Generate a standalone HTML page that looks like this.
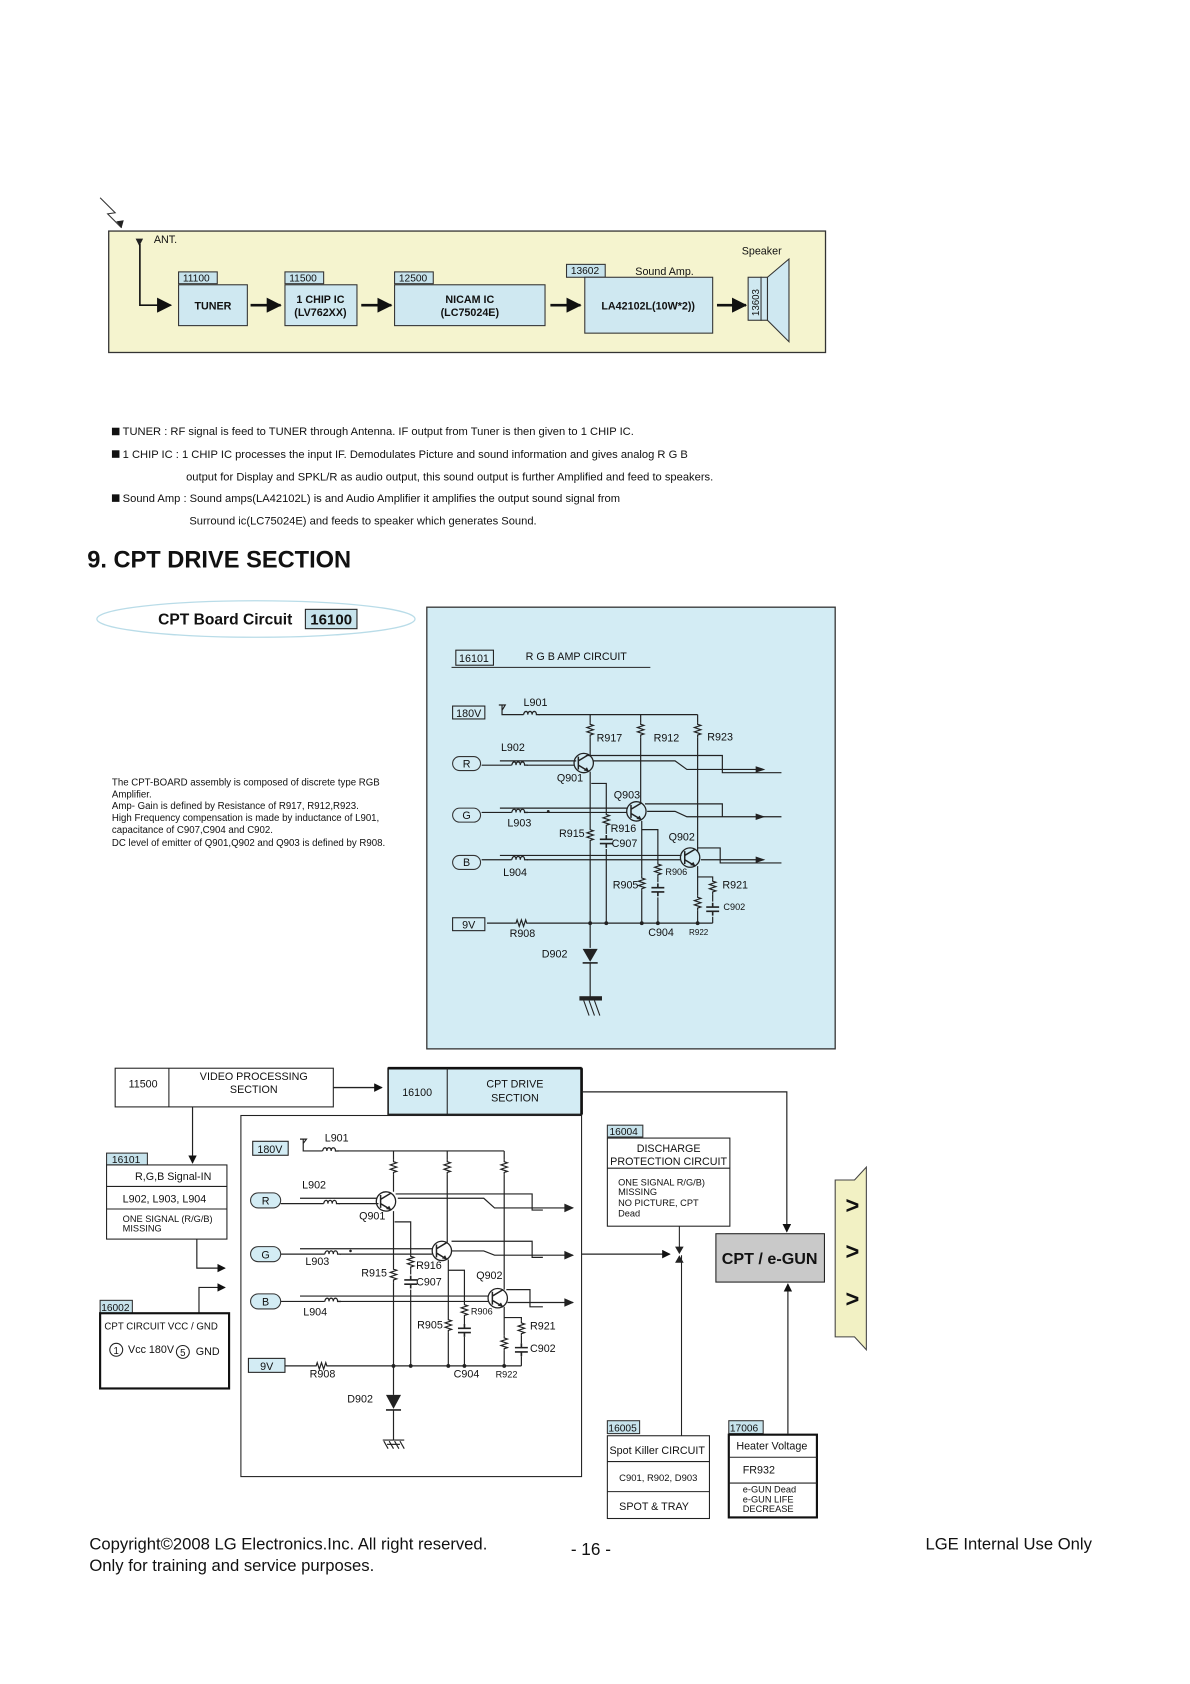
<!DOCTYPE html>
<html><head><meta charset="utf-8"><style>
html,body{margin:0;padding:0;background:#fff}
svg{display:block}
text{font-family:"Liberation Sans",Arial,sans-serif;fill:#111}
</style></head><body>
<svg width="1190" height="1684" viewBox="0 0 1107 1567" xmlns="http://www.w3.org/2000/svg">
<defs>
<marker id="ah" markerWidth="8" markerHeight="8" refX="7" refY="4" orient="auto" markerUnits="userSpaceOnUse"><path d="M0,0 L8,4 L0,8 Z" fill="#111"/></marker>
<marker id="ahb" markerWidth="14" markerHeight="14" refX="13" refY="7" orient="auto" markerUnits="userSpaceOnUse"><path d="M0,0 L14,7 L0,14 Z" fill="#111"/></marker>
<g id="rv"><path d="M0,-7 L0,-5 L3,-4 L-3,-2 L3,0 L-3,2 L3,4 L0,5 L0,7" fill="none" stroke="#222" stroke-width="1.1"/></g>
<g id="rh"><path d="M-7,0 L-5,0 L-4,-3 L-2,3 L0,-3 L2,3 L4,-3 L5,0 L7,0" fill="none" stroke="#222" stroke-width="1.1"/></g>
<g id="coil"><path d="M-7,0 C-6,-4 -3,-4 -3,0 C-3,-4 1,-4 1,0 C1,-4 5,-4 5,0 L8,0" fill="none" stroke="#222" stroke-width="1.2"/></g>
<g id="cap"><path d="M0,-6 L0,-2 M-6,-2 L6,-2 M-6,2 L6,2 M0,2 L0,6" fill="none" stroke="#222" stroke-width="1.5"/></g>
<g id="tr"><circle r="9" fill="none" stroke="#222" stroke-width="1.2"/><path d="M-5,-6 L-5,6 M-5,-2 L5,-8 M-5,2 L5,8" fill="none" stroke="#222" stroke-width="1.4"/><path d="M5,8 L0,7 L3,4 Z" fill="#222"/></g>
</defs>

<!-- TOP BLOCK -->
<path d="M93,184 L107,198 L100,199 L113,212" fill="none" stroke="#333" stroke-width="1"/>
<path d="M113,212 L108,206 L115,205 Z" fill="#222"/>
<rect x="101" y="215" width="667" height="113" fill="#f5f4cf" stroke="#333" stroke-width="1.2"/>
<path d="M126,222 L133,222 L129.5,229 Z" fill="#222"/>
<text x="143" y="226" font-size="10">ANT.</text>
<path d="M130,227 L130,284 L159,284" fill="none" stroke="#111" stroke-width="1.5" marker-end="url(#ahb)"/>
<g font-size="9.5">
<rect x="166" y="253" width="36" height="11" fill="#c7e3ec" stroke="#333"/><text x="170" y="262">11100</text>
<rect x="265" y="253" width="36" height="11" fill="#c7e3ec" stroke="#333"/><text x="269" y="262">11500</text>
<rect x="367" y="253" width="36" height="11" fill="#c7e3ec" stroke="#333"/><text x="371" y="262">12500</text>
<rect x="527" y="246" width="36" height="12" fill="#c7e3ec" stroke="#333"/><text x="531" y="255">13602</text>
</g>
<text x="591" y="256" font-size="10">Sound Amp.</text>
<text x="690" y="237" font-size="10">Speaker</text>
<rect x="166" y="265" width="64" height="38" fill="#cfe8f1" stroke="#333"/>
<text x="198" y="288" font-size="10" font-weight="bold" text-anchor="middle">TUNER</text>
<rect x="265" y="265" width="67" height="38" fill="#cfe8f1" stroke="#333"/>
<text x="298" y="282" font-size="10" font-weight="bold" text-anchor="middle">1 CHIP IC</text>
<text x="298" y="294" font-size="10" font-weight="bold" text-anchor="middle">(LV762XX)</text>
<rect x="367" y="265" width="140" height="38" fill="#cfe8f1" stroke="#333"/>
<text x="437" y="282" font-size="10" font-weight="bold" text-anchor="middle">NICAM IC</text>
<text x="437" y="294" font-size="10" font-weight="bold" text-anchor="middle">(LC75024E)</text>
<rect x="544" y="258" width="119" height="52" fill="#cfe8f1" stroke="#333"/>
<text x="603" y="288" font-size="10" font-weight="bold" text-anchor="middle">LA42102L(10W*2))</text>
<g stroke="#111" stroke-width="2.5">
<line x1="233" y1="284" x2="261" y2="284" marker-end="url(#ahb)"/>
<line x1="336" y1="284" x2="364" y2="284" marker-end="url(#ahb)"/>
<line x1="512" y1="284" x2="540" y2="284" marker-end="url(#ahb)"/>
<line x1="667" y1="284" x2="694" y2="284" marker-end="url(#ahb)"/>
</g>
<rect x="696" y="258" width="12" height="40" fill="#cfe8f1" stroke="#333"/>
<text transform="translate(706,294) rotate(-90)" font-size="9">13603</text>
<rect x="708" y="258" width="6" height="40" fill="#cfe8f1" stroke="#333"/>
<polygon points="714,258 734,241 734,318 714,298" fill="#cfe8f1" stroke="#333"/>

<!-- text lines -->
<g font-size="10.4">
<rect x="104" y="398" width="7" height="7" fill="#111"/>
<text x="114" y="405">TUNER : RF signal is feed to TUNER through Antenna. IF output from Tuner is then given to 1 CHIP IC.</text>
<rect x="104" y="419" width="7" height="7" fill="#111"/>
<text x="114" y="426">1 CHIP IC : 1 CHIP IC processes the input IF. Demodulates Picture and sound information and gives analog R G B</text>
<text x="173" y="447">output for Display and SPKL/R as audio output, this sound output is further Amplified and feed to speakers.</text>
<rect x="104" y="460" width="7" height="7" fill="#111"/>
<text x="114" y="467">Sound Amp :  Sound amps(LA42102L) is and Audio Amplifier it amplifies the output sound signal from</text>
<text x="176" y="488">Surround ic(LC75024E) and feeds to speaker which generates Sound.</text>
</g>
<text x="81" y="528" font-size="22" font-weight="bold">9. CPT DRIVE SECTION</text>

<ellipse cx="238" cy="576" rx="148" ry="17" fill="#fff" stroke="#b9dce8" stroke-width="1.2"/>
<text x="147" y="581" font-size="14.5" font-weight="bold">CPT Board Circuit</text>
<rect x="284" y="567" width="48" height="18" fill="#c7e3ec" stroke="#222"/>
<text x="308" y="581" font-size="14" font-weight="bold" text-anchor="middle">16100</text>
<g font-size="9">
<text x="104" y="731">The CPT-BOARD assembly is composed of discrete type RGB</text>
<text x="104" y="742">Amplifier.</text>
<text x="104" y="753">Amp- Gain is defined by Resistance of R917, R912,R923.</text>
<text x="104" y="764">High Frequency compensation is made by inductance of L901,</text>
<text x="104" y="775">capacitance of C907,C904 and C902.</text>
<text x="104" y="787">DC level of emitter of Q901,Q902 and Q903 is defined by R908.</text>
</g>

<!-- BLUE PANEL CIRCUIT -->
<rect x="397" y="565" width="380" height="411" fill="#d3ecf4" stroke="#333" stroke-width="1.2"/>
<rect x="424" y="605" width="35" height="14" fill="#d3ecf4" stroke="#222"/>
<text x="427" y="616" font-size="10">16101</text>
<text x="489" y="614" font-size="10">R G B AMP CIRCUIT</text>
<line x1="420" y1="621" x2="605" y2="621" stroke="#222"/>
<rect x="421" y="657" width="30" height="12" fill="#d3ecf4" stroke="#222"/>
<text x="436" y="667" font-size="10" text-anchor="middle">180V</text>
<g fill="none" stroke="#222" stroke-width="1.1">
<path d="M464,656 L470,656 L467,661 M467,656 L467,665 L487,665 M501,665 L649,665"/>
<path d="M549,665 L549,672 M549,686 L549,704 M596,665 L596,672 M596,686 L596,748 M649,665 L649,672 M649,686 L649,792"/>
<path d="M448,712 L476,712 M490,712 L534,712 M465,708 L536,708"/>
<path d="M545,703 L672,703 L672,719 L727,719 M552,708 L628,708 L639,716 L710,716"/>
<path d="M448,756 L476,756 M490,756 L583,756 M465,752 L584,752"/>
<path d="M600,748 L672,748 L672,760 L727,760 M602,755 L628,755 L639,760 L710,760"/>
<path d="M448,800 L476,800 M490,800 L633,800 M465,796 L634,796"/>
<path d="M649,789 L670,789 L670,803 L727,803 M652,800 L710,800"/>
<path d="M549,718 L549,770 M549,784 L549,882 M550,729 L564,729 L564,756 M564,770 L564,776 M564,790 L564,859"/>
<path d="M597,764 L597,815 M597,829 L597,859 M597,772 L612,772 L612,802 M612,816 L612,821 M612,835 L612,859"/>
<path d="M649,806 L649,833 M649,847 L649,859 M649,816 L663,816 L663,818 M663,832 L663,839 M663,853 L663,859"/>
<path d="M453,859 L478,859 M492,859 L663,859"/>
<path d="M549,896 L549,929"/>
</g>
<use href="#coil" transform="translate(494,665)"/>
<use href="#rv" transform="translate(549,679)"/><use href="#rv" transform="translate(596,679)"/><use href="#rv" transform="translate(649,679)"/>
<use href="#coil" transform="translate(483,712)"/><use href="#coil" transform="translate(483,756)"/><use href="#coil" transform="translate(483,800)"/>
<use href="#tr" transform="translate(543,710)"/><use href="#tr" transform="translate(592,755)"/><use href="#tr" transform="translate(642,798)"/>
<use href="#rv" transform="translate(549,777)"/><use href="#rv" transform="translate(564,763)"/><use href="#cap" transform="translate(564,783)"/>
<use href="#rv" transform="translate(597,822)"/><use href="#rv" transform="translate(612,809)"/><use href="#cap" transform="translate(612,828)"/>
<use href="#rv" transform="translate(663,825)"/><use href="#cap" transform="translate(663,846)"/><use href="#rv" transform="translate(649,840)"/>
<use href="#rh" transform="translate(485,859)"/>
<g fill="#222"><circle cx="549" cy="859" r="1.8"/><circle cx="564" cy="859" r="1.8"/><circle cx="597" cy="859" r="1.8"/><circle cx="612" cy="859" r="1.8"/><circle cx="649" cy="859" r="1.8"/><circle cx="510" cy="755" r="1.3"/></g>
<g fill="#222"><path d="M703,713 L712,716 L703,719 Z"/><path d="M703,757 L712,760 L703,763 Z"/><path d="M703,797 L712,800 L703,803 Z"/></g>
<path d="M542,883 L556,883 L549,895 Z" fill="#222"/><line x1="542" y1="896" x2="556" y2="896" stroke="#222" stroke-width="1.5"/>
<rect x="539" y="927" width="21" height="4" fill="#222"/>
<path d="M543,931 L548,945 M548,931 L553,945 M553,931 L558,945" stroke="#222" fill="none"/>
<g fill="#d3ecf4" stroke="#333"><rect x="421" y="704" width="26" height="13" rx="6.5"/><rect x="421" y="752" width="26" height="13" rx="6.5"/><rect x="421" y="796" width="26" height="13" rx="6.5"/></g>
<g font-size="10" text-anchor="middle"><text x="434" y="714">R</text><text x="434" y="762">G</text><text x="434" y="806">B</text></g>
<rect x="421" y="854" width="30" height="12" fill="#d3ecf4" stroke="#222"/>
<text x="436" y="864" font-size="10" text-anchor="middle">9V</text>
<g font-size="10">
<text x="487" y="657">L901</text><text x="555" y="690">R917</text><text x="608" y="690">R912</text><text x="658" y="689">R923</text>
<text x="466" y="699">L902</text><text x="518" y="727">Q901</text><text x="571" y="743">Q903</text><text x="472" y="769">L903</text>
<text x="520" y="779">R915</text><text x="568" y="774">R916</text><text x="569" y="788">C907</text><text x="622" y="782">Q902</text>
<text x="468" y="815">L904</text><text x="570" y="827">R905</text><text x="672" y="827">R921</text>
<text x="474" y="872">R908</text><text x="603" y="871">C904</text><text x="504" y="891">D902</text>
</g>
<text x="619" y="814" font-size="8.5">R906</text><text x="673" y="847" font-size="8.5">C902</text><text x="641" y="870" font-size="7.5">R922</text>

<!-- BOTTOM FLOW -->
<rect x="107" y="994" width="203" height="36" fill="#fff" stroke="#222"/>
<line x1="157" y1="994" x2="157" y2="1030" stroke="#222"/>
<text x="133" y="1012" font-size="10" text-anchor="middle">11500</text>
<text x="236" y="1005" font-size="10" text-anchor="middle">VIDEO PROCESSING</text>
<text x="236" y="1017" font-size="10" text-anchor="middle">SECTION</text>
<line x1="310" y1="1012" x2="355" y2="1012" stroke="#222" stroke-width="1.2" marker-end="url(#ah)"/>
<rect x="361" y="994" width="180" height="43" fill="#d3ecf4" stroke="#222" stroke-width="1.5"/>
<line x1="361" y1="994" x2="541" y2="994" stroke="#111" stroke-width="2.5"/>
<line x1="541" y1="994" x2="541" y2="1037" stroke="#111" stroke-width="2.5"/>
<line x1="416" y1="994" x2="416" y2="1037" stroke="#222"/>
<text x="388" y="1020" font-size="10" text-anchor="middle">16100</text>
<text x="479" y="1012" font-size="10" text-anchor="middle">CPT DRIVE</text>
<text x="479" y="1025" font-size="10" text-anchor="middle">SECTION</text>
<rect x="224" y="1038" width="317" height="336" fill="#fff" stroke="#222"/>
<path d="M541,1016 L732,1016 L732,1146" fill="none" stroke="#222" stroke-width="1.1" marker-end="url(#ah)"/>
<path d="M179,1030 L179,1082" fill="none" stroke="#222" stroke-width="1.1" marker-end="url(#ah)"/>
<rect x="99" y="1073" width="38" height="11" fill="#c7e3ec" stroke="#333"/><text x="104" y="1082" font-size="9.5">16101</text>
<rect x="99" y="1084" width="112" height="69" fill="#fff" stroke="#222"/>
<line x1="99" y1="1104" x2="211" y2="1104" stroke="#222"/><line x1="99" y1="1125" x2="211" y2="1125" stroke="#222"/>
<text x="161" y="1098" font-size="10" text-anchor="middle">R,G,B Signal-IN</text>
<text x="114" y="1119" font-size="10">L902, L903, L904</text>
<text x="114" y="1137" font-size="8.6">ONE SIGNAL (R/G/B)</text><text x="114" y="1146" font-size="8.6">MISSING</text>
<path d="M183,1153 L183,1180 L209,1180" fill="none" stroke="#222" stroke-width="1.1" marker-end="url(#ah)"/>
<path d="M185,1222 L185,1198 L209,1198" fill="none" stroke="#222" stroke-width="1.1" marker-end="url(#ah)"/>
<rect x="93" y="1210" width="30" height="12" fill="#c7e3ec" stroke="#333"/><text x="94" y="1220" font-size="9.5">16002</text>
<rect x="93" y="1222" width="120" height="70" fill="#fff" stroke="#111" stroke-width="2"/>
<text x="97" y="1237" font-size="9">CPT CIRCUIT VCC / GND</text>
<circle cx="108" cy="1256" r="6" fill="none" stroke="#222"/><text x="108" y="1260" font-size="9" text-anchor="middle">1</text>
<text x="119" y="1259" font-size="10">Vcc 180V</text>
<circle cx="170" cy="1258" r="6" fill="none" stroke="#222"/><text x="170" y="1262" font-size="9" text-anchor="middle">5</text>
<text x="182" y="1261" font-size="10">GND</text>

<!-- bottom circuit -->
<rect x="235" y="1062" width="33" height="13" fill="#d3ecf4" stroke="#222"/><text x="251" y="1073" font-size="10" text-anchor="middle">180V</text>
<g fill="none" stroke="#222" stroke-width="1.1">
<path d="M279,1060 L285,1060 L282,1064 M282,1060 L282,1071 L300,1071 M314,1071 L469,1071"/>
<path d="M366,1071 L366,1079 M366,1093 L366,1109 M416,1071 L416,1079 M416,1093 L416,1156 M469,1071 L469,1079 M469,1093 L469,1200"/>
<path d="M261,1120 L301,1120 M315,1120 L352,1120 M279,1115 L351,1115"/>
<path d="M368,1111 L495,1111 L495,1126 L505,1126 M370,1115 L450,1115 L460,1124 L533,1124"/>
<path d="M261,1167 L302,1167 M316,1167 L402,1167 M279,1162 L402,1162"/>
<path d="M420,1155 L495,1155 L495,1170 L505,1170 M420,1164 L450,1164 L460,1168 L533,1168"/>
<path d="M261,1211 L302,1211 M316,1211 L454,1211 M279,1206 L454,1206"/>
<path d="M471,1200 L493,1200 L493,1216 L505,1216 M472,1212 L533,1212"/>
<path d="M366,1127 L366,1179 M366,1193 L366,1298 M367,1137 L382,1137 L382,1167 M382,1181 L382,1186 M382,1200 L382,1271"/>
<path d="M417,1172 L417,1226 M417,1240 L417,1271 M417,1182 L432,1182 L432,1212 M432,1226 L432,1232 M432,1244 L432,1271"/>
<path d="M469,1216 L469,1243 M469,1257 L469,1271 M469,1226 L485,1226 L485,1229 M485,1243 L485,1250 M485,1262 L485,1271"/>
<path d="M265,1271 L292,1271 M306,1271 L485,1271"/>
<path d="M366,1312 L366,1340 M356,1340 L376,1340"/>
<path d="M357,1341 L361,1348 M362,1341 L366,1348 M367,1341 L371,1348 M372,1341 L376,1348"/>
<path d="M360,1344 L372,1344"/>
</g>
<use href="#coil" transform="translate(307,1071)"/>
<use href="#rv" transform="translate(366,1086)"/><use href="#rv" transform="translate(416,1086)"/><use href="#rv" transform="translate(469,1086)"/>
<use href="#coil" transform="translate(308,1120)"/><use href="#coil" transform="translate(309,1167)"/><use href="#coil" transform="translate(309,1211)"/>
<use href="#tr" transform="translate(359,1118)"/><use href="#tr" transform="translate(411,1164)"/><use href="#tr" transform="translate(463,1208)"/>
<use href="#rv" transform="translate(366,1186)"/><use href="#rv" transform="translate(382,1174)"/><use href="#cap" transform="translate(382,1193)"/>
<use href="#rv" transform="translate(417,1233)"/><use href="#rv" transform="translate(432,1219)"/><use href="#cap" transform="translate(432,1238)"/>
<use href="#rv" transform="translate(485,1236)"/><use href="#cap" transform="translate(485,1256)"/><use href="#rv" transform="translate(469,1250)"/>
<use href="#rh" transform="translate(299,1271)"/>
<g fill="#222"><circle cx="366" cy="1271" r="1.8"/><circle cx="382" cy="1271" r="1.8"/><circle cx="417" cy="1271" r="1.8"/><circle cx="432" cy="1271" r="1.8"/><circle cx="469" cy="1271" r="1.8"/><circle cx="326" cy="1164" r="1.2"/>
<path d="M525,1120 L534,1124 L525,1128 Z"/><path d="M525,1164 L534,1168 L525,1172 Z"/><path d="M525,1208 L534,1212 L525,1216 Z"/>
<path d="M359,1298 L373,1298 L366,1311 Z"/></g>
<line x1="359" y1="1312" x2="373" y2="1312" stroke="#222" stroke-width="1.5"/>
<g fill="#d3ecf4" stroke="#333"><rect x="233" y="1110" width="28" height="14" rx="7"/><rect x="233" y="1160" width="28" height="14" rx="7"/><rect x="233" y="1204" width="28" height="14" rx="7"/></g>
<g font-size="10" text-anchor="middle"><text x="247" y="1121">R</text><text x="247" y="1171">G</text><text x="247" y="1215">B</text></g>
<rect x="231" y="1264" width="34" height="13" fill="#d3ecf4" stroke="#222"/><text x="248" y="1275" font-size="10" text-anchor="middle">9V</text>
<g font-size="10">
<text x="302" y="1062">L901</text><text x="281" y="1106">L902</text><text x="334" y="1135">Q901</text><text x="284" y="1177">L903</text>
<text x="336" y="1188">R915</text><text x="387" y="1181">R916</text><text x="387" y="1196">C907</text><text x="443" y="1190">Q902</text>
<text x="282" y="1224">L904</text><text x="388" y="1236">R905</text><text x="493" y="1237">R921</text><text x="493" y="1258">C902</text>
<text x="288" y="1282">R908</text><text x="422" y="1282">C904</text><text x="323" y="1305">D902</text>
</g>
<text x="438" y="1223" font-size="8.5">R906</text><text x="461" y="1282" font-size="8.5">R922</text>

<!-- right column -->
<rect x="565" y="1047" width="33" height="11" fill="#c7e3ec" stroke="#333"/><text x="567" y="1056" font-size="9.5">16004</text>
<rect x="565" y="1059" width="114" height="82" fill="#fff" stroke="#222"/>
<line x1="565" y1="1087" x2="679" y2="1087" stroke="#222"/>
<text x="622" y="1072" font-size="10" text-anchor="middle">DISCHARGE</text>
<text x="622" y="1084" font-size="10" text-anchor="middle">PROTECTION CIRCUIT</text>
<g font-size="8.6"><text x="575" y="1103">ONE SIGNAL R/G/B)</text><text x="575" y="1112">MISSING</text><text x="575" y="1122">NO PICTURE, CPT</text><text x="575" y="1132">Dead</text></g>
<line x1="541" y1="1167" x2="623" y2="1167" stroke="#222" stroke-width="1.1" marker-end="url(#ah)"/>
<line x1="632" y1="1141" x2="632" y2="1166" stroke="#222"/>
<line x1="634" y1="1336" x2="634" y2="1168" stroke="#222"/>
<path d="M628,1160 L636,1160 L632,1167 Z M628,1175 L636,1175 L632,1168 Z" fill="#222"/>
<rect x="666" y="1148" width="101" height="45" fill="#c9c9c9" stroke="#222"/>
<text x="716" y="1176" font-size="15" font-weight="bold" text-anchor="middle">CPT / e-GUN</text>
<line x1="733" y1="1334" x2="733" y2="1195" stroke="#222" stroke-width="1.1" marker-end="url(#ah)"/>
<polygon points="777,1098 795,1098 806,1086 806,1256 795,1244 777,1244" fill="#f2f1c4" stroke="#444"/>
<g font-size="22" font-weight="bold" text-anchor="middle"><text x="793" y="1129">&gt;</text><text x="793" y="1172">&gt;</text><text x="793" y="1216">&gt;</text></g>
<rect x="565" y="1322" width="30" height="12" fill="#c7e3ec" stroke="#333"/><text x="566" y="1332" font-size="9.5">16005</text>
<rect x="565" y="1336" width="95" height="77" fill="#fff" stroke="#222"/>
<line x1="565" y1="1360" x2="660" y2="1360" stroke="#222"/><line x1="565" y1="1388" x2="660" y2="1388" stroke="#222"/>
<text x="567" y="1353" font-size="10">Spot Killer CIRCUIT</text>
<text x="576" y="1378" font-size="8.8">C901, R902,  D903</text>
<text x="576" y="1405" font-size="10">SPOT &amp; TRAY</text>
<rect x="678" y="1322" width="32" height="12" fill="#c7e3ec" stroke="#333"/><text x="679" y="1332" font-size="9.5">17006</text>
<rect x="678" y="1335" width="82" height="77" fill="#fff" stroke="#111" stroke-width="2"/>
<line x1="678" y1="1356" x2="760" y2="1356" stroke="#222"/><line x1="678" y1="1380" x2="760" y2="1380" stroke="#222"/>
<text x="685" y="1349" font-size="10">Heater Voltage</text>
<text x="691" y="1371" font-size="10">FR932</text>
<g font-size="8.6"><text x="691" y="1389">e-GUN Dead</text><text x="691" y="1398">e-GUN LIFE</text><text x="691" y="1407">DECREASE</text></g>

<!-- footer -->
<text x="83" y="1442" font-size="15.5">Copyright©2008 LG Electronics.Inc. All right reserved.</text>
<text x="83" y="1462" font-size="15.5">Only for training and service purposes.</text>
<text x="531" y="1447" font-size="16">- 16 -</text>
<text x="861" y="1442" font-size="15.5">LGE Internal Use Only</text>
</svg>
</body></html>
